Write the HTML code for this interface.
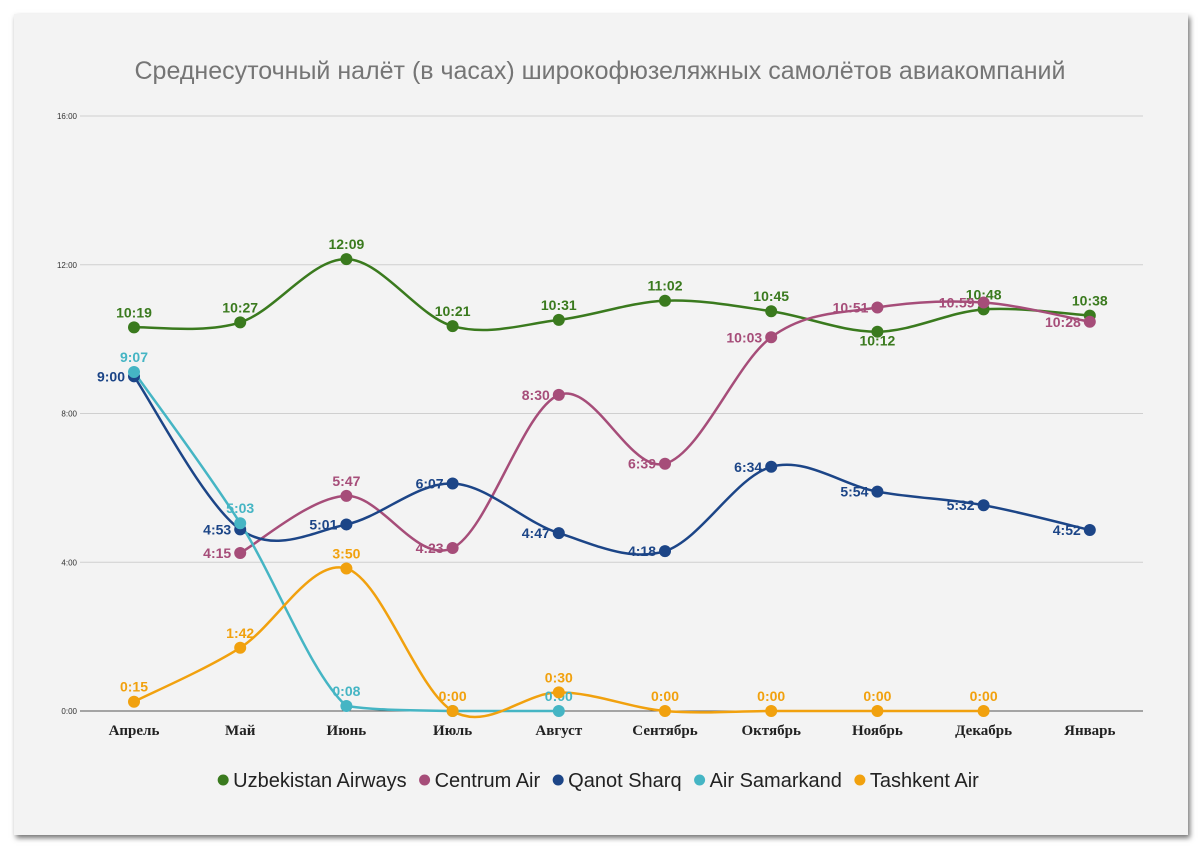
<!DOCTYPE html>
<html><head><meta charset="utf-8"><style>
html,body{margin:0;padding:0;background:#fff;width:1200px;height:849px;overflow:hidden}
#card{position:absolute;left:14px;top:14px;width:1174px;height:821px;background:#f3f3f3;box-shadow:2px 3px 5px rgba(0,0,0,.55)}
svg{position:absolute;left:0;top:0}
</style></head><body>
<div id="card"></div>
<svg id="chart" width="1200" height="849"></svg>
<script>
const months=["Апрель","Май","Июнь","Июль","Август","Сентябрь","Октябрь","Ноябрь","Декабрь","Январь"];
const yTicks=["0:00","4:00","8:00","12:00","16:00"];
const uzbekistan=["10:19","10:27","12:09","10:21","10:31","11:02","10:45","10:12","10:48","10:38"];
const centrum=[null,"4:15","5:47","4:23","8:30","6:39","10:03","10:51","10:59","10:28"];
const qanot=["9:00","4:53","5:01","6:07","4:47","4:18","6:34","5:54","5:32","4:52"];
const samarkand=["9:07","5:03","0:08","0:00","0:00",null,null,null,null,null];
const tashkent=["0:15","1:42","3:50","0:00","0:30","0:00","0:00","0:00","0:00",null];
const seriesNames=["Uzbekistan Airways","Centrum Air","Qanot Sharq","Air Samarkand","Tashkent Air"];
const colors=["#3a7a1e","#a64d79","#1c4587","#45b5c4","#f1a10e"];
const labelPos=[
 ["a","a","a","a","a","a","a","b","a","a"],
 ["l","l","a","l","l","l","l","l","l","l"],
 ["l","l","l","l","l","l","l","l","l","l"],
 ["a","a","a","n","a","a","a","a","a","a"],
 ["a","a","a","a","a","a","a","a","a","a"]];
const clampSeries=[false,false,false,true,false];
const data=[uzbekistan,centrum,qanot,samarkand,tashkent];
const NS="http://www.w3.org/2000/svg";
const svg=document.getElementById('chart');
function toH(s){const [h,m]=s.split(':').map(Number);return h+m/60;}
function xs(i){return 134+i*106.2;}
function ys(v){return 711-v*(595/16);}
function mk(tag,attrs,parent){const e=document.createElementNS(NS,tag);for(const k in attrs)e.setAttribute(k,attrs[k]);(parent||svg).appendChild(e);return e;}
const title=mk('text',{x:600,y:79,'text-anchor':'middle','font-family':'Liberation Sans, sans-serif','font-size':25,fill:'#757575'});
title.textContent="Среднесуточный налёт (в часах) широкофюзеляжных самолётов авиакомпаний";


yTicks.forEach(t=>{const v=toH(t);const y=ys(v);
 const g=mk('line',{x1:80,x2:1143,y1:y,y2:y,stroke:v===0?'#555':'#cfcfcf','stroke-width':1});
 
 
 const tx=mk('text',{x:77,y:y+3,'text-anchor':'end','font-family':'Liberation Sans, sans-serif','font-size':8,fill:'#333'});
 tx.textContent=t;
 
 });
months.forEach((m,i)=>{const tx=mk('text',{x:xs(i),y:735,'text-anchor':'middle','font-family':'Liberation Serif, serif','font-size':15,'font-weight':'bold',fill:'#222'});
 tx.textContent=m;
 
 });
function pathFor(pts,clamp){let d=`M${pts[0][0]},${pts[0][1]}`;const t=0.5/3*2;const yMax=ys(0);
 const cl=v=>clamp?Math.min(v,yMax):v;
 for(let i=0;i<pts.length-1;i++){const p0=pts[i-1]||pts[i],p1=pts[i],p2=pts[i+1],p3=pts[i+2]||p2;
  const c1=[p1[0]+(p2[0]-p0[0])*t/2,cl(p1[1]+(p2[1]-p0[1])*t/2)];
  const c2=[p2[0]-(p3[0]-p1[0])*t/2,cl(p2[1]-(p3[1]-p1[1])*t/2)];
  d+=` C${c1[0]},${c1[1]} ${c2[0]},${c2[1]} ${p2[0]},${p2[1]}`;}
 return d;}
data.forEach((arr,s)=>{const pts=[];arr.forEach((v,i)=>{if(v!==null)pts.push([xs(i),ys(toH(v))]);});
 const p=mk('path',{d:pathFor(pts,clampSeries[s]),fill:'none',stroke:colors[s],'stroke-width':2.5});
 
 });
data.forEach((arr,s)=>{arr.forEach((v,i)=>{if(v===null)return;const x=xs(i),y=ys(toH(v));
 const c=mk('circle',{cx:x,cy:y,r:6,fill:colors[s]});
 
 
 const pos=labelPos[s][i];if(pos==='n')return;
 let a={x:x,y:y-10,'text-anchor':'middle'};
 if(pos==='l')a={x:x-9,y:y+5,'text-anchor':'end'};
 if(pos==='b')a={x:x,y:y+14,'text-anchor':'middle'};
 a['font-family']='Liberation Sans, sans-serif';a['font-size']=14;a['font-weight']='bold';a.fill=colors[s];
 const tx=mk('text',a);tx.textContent=v;
 
 });});
// legend
const items=[];let total=0;
seriesNames.forEach((n,s)=>{const g=mk('g',{});
 
 
 const c=mk('circle',{cx:0,cy:780,r:5.5,fill:colors[s]},g);
 const t=mk('text',{x:0,y:787,'font-family':'Liberation Sans, sans-serif','font-size':20,fill:'#222'},g);t.textContent=n;
 const w=t.getComputedTextLength()+16;items.push([c,t,w]);total+=w+12;});
let lx=598-(total-12)/2;
items.forEach(([c,t,w])=>{c.setAttribute('cx',lx+6);t.setAttribute('x',lx+16);lx+=w+12;});
</script>
</body></html>
